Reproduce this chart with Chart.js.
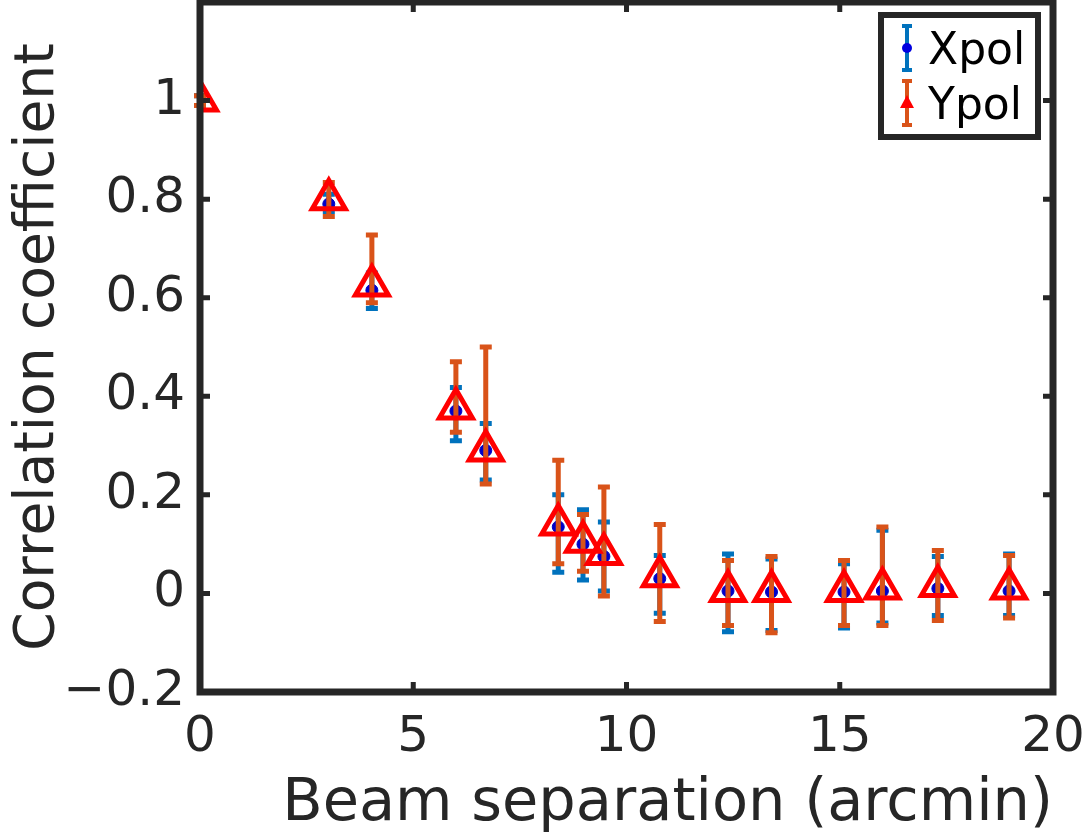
<!DOCTYPE html>
<html lang="en">
<head>
  <meta charset="UTF-8" />
  <title>Correlation coefficient vs beam separation</title>
  <script src="https://cdn.jsdelivr.net/npm/chart.js"></script>
  <style>
    body { margin: 0; padding: 0; background: #ffffff; }
    #wrap { width: 1089px; height: 837px; }
  </style>
</head>
<body>
  <div id="wrap"><canvas id="corrChart" width="1089" height="837"></canvas></div>

  <script>
    // beam separation (arcmin)
    const separation = [0, 3.02, 4.03, 6.0, 6.7, 8.4, 8.98, 9.47, 10.78, 12.38, 13.4, 15.1, 16.0, 17.3, 18.97];

    const xpol   = [1.0, 0.79, 0.615, 0.37, 0.29, 0.135, 0.10, 0.075, 0.03, 0.005, 0.003, 0.003, 0.005, 0.01, 0.005];
    const xpolLo = [0.99, 0.775, 0.578, 0.31, 0.23, 0.043, 0.027, 0.005, -0.04, -0.078, -0.075, -0.07, -0.06, -0.045, -0.045];
    const xpolHi = [1.01, 0.81, 0.65, 0.418, 0.345, 0.20, 0.17, 0.145, 0.077, 0.08, 0.07, 0.06, 0.128, 0.075, 0.08];

    const ypol   = [1.0, 0.80, 0.625, 0.375, 0.29, 0.14, 0.105, 0.08, 0.035, 0.005, 0.005, 0.005, 0.01, 0.015, 0.01];
    const ypolLo = [0.99, 0.765, 0.59, 0.327, 0.222, 0.06, 0.045, -0.005, -0.057, -0.065, -0.08, -0.065, -0.065, -0.055, -0.05];
    const ypolHi = [1.01, 0.834, 0.727, 0.47, 0.50, 0.27, 0.16, 0.216, 0.14, 0.067, 0.075, 0.067, 0.135, 0.087, 0.077];

    const xTicks = [0, 5, 10, 15, 20];
    const yTicks = [-0.2, 0, 0.2, 0.4, 0.6, 0.8, 1];

    const FONT = "'DejaVu Sans', sans-serif";
    const AXIS = "#262626";
    const BLUE_BAR = "#0072bd";
    const ORANGE_BAR = "#d95319";

    const toPoints = (ys) => separation.map((x, i) => ({ x: x, y: ys[i] }));

    // error bars, drawn under each dataset's markers
    const errorBars = {
      id: "errorBars",
      beforeDatasetDraw(chart, args) {
        const ds = chart.data.datasets[args.index];
        if (!ds.lo) return;
        const { ctx, scales } = chart;
        ctx.save();
        ctx.strokeStyle = ds.barColor;
        ctx.lineWidth = 5;
        ctx.lineCap = "butt";
        separation.forEach((x, i) => {
          const px = scales.x.getPixelForValue(x);
          const lo = scales.y.getPixelForValue(ds.lo[i]);
          const hi = scales.y.getPixelForValue(ds.hi[i]);
          ctx.beginPath();
          ctx.moveTo(px, lo); ctx.lineTo(px, hi);
          ctx.moveTo(px - 6, lo); ctx.lineTo(px + 6, lo);
          ctx.moveTo(px - 6, hi); ctx.lineTo(px + 6, hi);
          ctx.stroke();
        });
        ctx.restore();
      }
    };

    // MATLAB-like box, inward ticks, legend
    const frame = {
      id: "frame",
      afterDraw(chart) {
        const { ctx, chartArea: a, scales } = chart;
        ctx.save();
        ctx.strokeStyle = AXIS;
        ctx.lineWidth = 7;
        ctx.strokeRect(a.left, a.top, a.right - a.left, a.bottom - a.top);

        ctx.lineWidth = 5;
        ctx.beginPath();
        xTicks.forEach(v => {
          const px = scales.x.getPixelForValue(v);
          ctx.moveTo(px, a.bottom); ctx.lineTo(px, a.bottom - 10);
          ctx.moveTo(px, a.top); ctx.lineTo(px, a.top + 10);
        });
        yTicks.forEach(v => {
          const py = scales.y.getPixelForValue(v);
          ctx.moveTo(a.left, py); ctx.lineTo(a.left + 10, py);
          ctx.moveTo(a.right, py); ctx.lineTo(a.right - 10, py);
        });
        ctx.stroke();

        // legend
        const lx = 881, ly = 15, lw = 157, lh = 122;
        ctx.fillStyle = "#ffffff";
        ctx.fillRect(lx, ly, lw, lh);
        ctx.lineWidth = 6;
        ctx.strokeStyle = AXIS;
        ctx.strokeRect(lx, ly, lw, lh);

        const ix = 907;
        const rows = [
          { label: "Xpol", cy: 48, bar: BLUE_BAR },
          { label: "Ypol", cy: 103, bar: ORANGE_BAR }
        ];
        rows.forEach((r, k) => {
          ctx.strokeStyle = r.bar;
          ctx.lineWidth = 4;
          ctx.beginPath();
          ctx.moveTo(ix, r.cy - 22); ctx.lineTo(ix, r.cy + 22);
          ctx.moveTo(ix - 5, r.cy - 22); ctx.lineTo(ix + 5, r.cy - 22);
          ctx.moveTo(ix - 5, r.cy + 22); ctx.lineTo(ix + 5, r.cy + 22);
          ctx.stroke();
          if (k === 0) {
            ctx.fillStyle = "#0000e0";
            ctx.beginPath(); ctx.arc(ix, r.cy, 5, 0, Math.PI * 2); ctx.fill();
          } else {
            ctx.fillStyle = "#ff0000";
            ctx.beginPath();
            ctx.moveTo(ix, r.cy - 8); ctx.lineTo(ix + 7, r.cy + 5); ctx.lineTo(ix - 7, r.cy + 5);
            ctx.closePath(); ctx.fill();
          }
          ctx.fillStyle = "#000000";
          ctx.font = "44px " + FONT;
          ctx.textBaseline = "alphabetic";
          ctx.textAlign = "left";
          ctx.fillText(r.label, 928, r.cy + 16);
        });
        ctx.restore();
      }
    };

    new Chart(document.getElementById("corrChart").getContext("2d"), {
      type: "scatter",
      data: {
        datasets: [
          {
            label: "Xpol",
            data: toPoints(xpol),
            lo: xpolLo, hi: xpolHi, barColor: BLUE_BAR,
            pointStyle: "circle",
            pointRadius: 6,
            backgroundColor: "#0000c8",
            borderColor: "#0000c8",
            borderWidth: 1,
            order: 2
          },
          {
            label: "Ypol",
            data: toPoints(ypol),
            lo: ypolLo, hi: ypolHi, barColor: ORANGE_BAR,
            pointStyle: "triangle",
            pointRadius: 19,
            backgroundColor: "rgba(0,0,0,0)",
            borderColor: "#ff0000",
            borderWidth: 5,
            order: 1
          }
        ]
      },
      options: {
        responsive: false,
        animation: false,
        layout: { autoPadding: false, padding: { top: 2, right: 36, left: 0, bottom: 0 } },
        plugins: { legend: { display: false }, tooltip: { enabled: false } },
        scales: {
          x: {
            type: "linear",
            min: 0, max: 20,
            afterBuildTicks: (s) => { s.ticks = xTicks.map(v => ({ value: v })); },
            grid: { display: false, drawTicks: false },
            border: { display: false },
            ticks: {
              color: AXIS,
              font: { family: FONT, size: 50 },
              padding: 16,
              maxRotation: 0
            },
            title: {
              display: true,
              text: "Beam separation (arcmin)",
              align: "end",
              color: AXIS,
              font: { family: FONT, size: 59, lineHeight: 1 },
              padding: { top: 0, bottom: 3 }
            },
            afterFit: (s) => {
              s.height = 145;
              s.paddingLeft = 0; s.paddingRight = 0;
            }
          },
          y: {
            type: "linear",
            min: -0.2, max: 1.2,
            afterBuildTicks: (s) => { s.ticks = yTicks.map(v => ({ value: v })); },
            grid: { display: false, drawTicks: false },
            border: { display: false },
            ticks: {
              color: AXIS,
              font: { family: FONT, size: 50 },
              padding: 15,
              callback: (v) => (v < 0 ? "\u2212" + Math.abs(v) : String(Math.round(v * 10) / 10))
            },
            title: {
              display: true,
              text: "Correlation coefficient",
              color: AXIS,
              font: { family: FONT, size: 55, lineHeight: 1 },
              padding: { top: 11, bottom: 0 }
            },
            afterFit: (s) => {
              s.width = 200;
              s.paddingTop = 0; s.paddingBottom = 0;
            }
          }
        }
      },
      plugins: [errorBars, frame]
    });
  </script>
</body>
</html>
